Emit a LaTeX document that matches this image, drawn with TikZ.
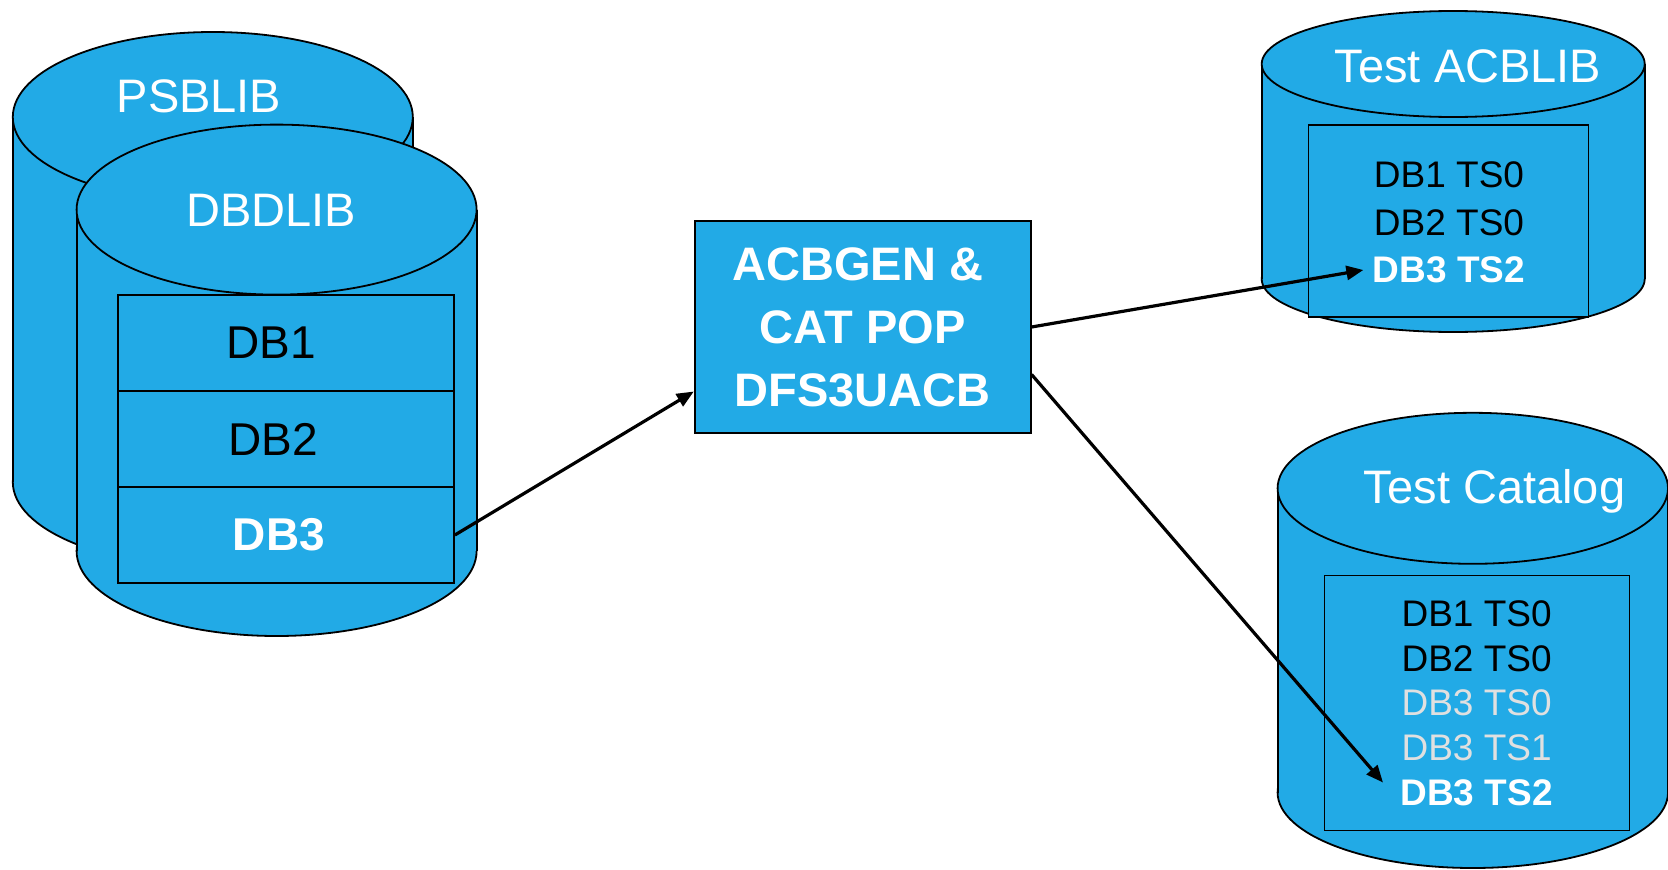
\documentclass[tikz,border=0pt]{standalone}
\usepackage{fontspec}
\setmainfont{Liberation Sans}
\usepackage{xcolor}
\usepackage{tikz}
\usetikzlibrary{arrows.meta, positioning, calc}
\definecolor{dbblue}{HTML}{22AAE6}
\definecolor{oldgray}{HTML}{E0E0E0}

% cylinder: centre x, top y, bottom y, x radius, y radius
\newcommand{\dbcyl}[5]{%
  \filldraw[cylpart] (#1,#3) ellipse [x radius=#4, y radius=#5];
  \fill[dbblue] (#1-#4,#2) rectangle (#1+#4,#3);
  \draw[cylline] (#1-#4,#2) -- (#1-#4,#3) (#1+#4,#2) -- (#1+#4,#3);
  \filldraw[cylpart] (#1,#2) ellipse [x radius=#4, y radius=#5];}

\begin{document}
\begin{tikzpicture}[x=1pt, y=-1pt,
    cylline/.style={draw=black, line width=1.8pt},
    cylpart/.style={cylline, fill=dbblue},
    title/.style={text=white, font=\fontsize{47}{56}\selectfont},
    rowbox/.style={draw=black, line width=1.8pt, fill=dbblue, minimum width=336pt, minimum height=96pt, inner sep=0pt},
    dbtext/.style={font=\fontsize{46}{55}\selectfont},
    listbox/.style={draw=black, line width=1.8pt, fill=dbblue, inner sep=0pt},
    tstext/.style={font=\fontsize{37}{44}\selectfont},
    procbox/.style={draw=black, line width=1.8pt, fill=dbblue, text=white, align=center,
      minimum width=336pt, minimum height=212pt, font=\bfseries\fontsize{47}{63}\selectfont},
    conn/.style={line width=3.2pt, -{Triangle[length=17pt, width=14pt]}}]
  \useasboundingbox (0,0) rectangle (1668,870);

  % PSBLIB behind DBDLIB
  \dbcyl{212.8}{117}{482}{200}{85}
  \node[title] (psb) at (199,96) {PSBLIB};
  \dbcyl{276.6}{209.6}{551}{200}{85}
  \node[title] (dbd) at (271,210) {DBDLIB};

  % DBD members
  \node[rowbox] (row1) at (286,343) {};
  \node[rowbox] (row2) at (286,439) {};
  \node[rowbox] (row3) at (286,535) {};
  \node[dbtext] (db1) at ([xshift=-15]row1.center) {DB1};
  \node[dbtext] (db2) at ([xshift=-13]row2.center) {DB2};
  \node[dbtext, text=white, font=\bfseries\fontsize{46}{55}\selectfont] (db3) at ([xshift=-7]row3.center) {DB3};

  % utility
  \node[procbox] (acb) at (862.7,327) {ACBGEN \&\hspace*{10pt}\\CAT POP\\DFS3UACB};

  % Test ACBLIB
  \dbcyl{1453.2}{64}{279}{191.5}{53}
  \node[title] (acblib) at (1468,66) {Test ACBLIB};
  \node[listbox, minimum width=280pt, minimum height=191.5pt] (alist) at (1448.4,221) {};
  \node[tstext] (a1) at (1449,174.5) {DB1 TS0};
  \node[tstext] (a2) at (1449,222.3) {DB2 TS0};
  \node[tstext, text=white, font=\bfseries\fontsize{37}{44}\selectfont] (a3) at (1449,270) {DB3 TS2};

  % Test Catalog
  \dbcyl{1472.8}{488.3}{792.5}{195.2}{75.5}
  \node[title] (cat) at (1494.6,491.5) {Test Catalog};
  \node[listbox, minimum width=305pt, minimum height=255pt] (clist) at (1477,703) {};
  \node[tstext] (c1) at (1476.6,613.8) {DB1 TS0};
  \node[tstext] (c2) at (1476.6,658.5) {DB2 TS0};
  \node[tstext, text=oldgray] (c3) at (1476.6,703.2) {DB3 TS0};
  \node[tstext, text=oldgray] (c4) at (1476.6,747.8) {DB3 TS1};
  \node[tstext, text=white, font=\bfseries\fontsize{37}{44}\selectfont] (c5) at (1476.6,792.5) {DB3 TS2};

  % connectors
  \draw[conn] (row3.east) -- ([yshift=-64.5]acb.west);
  \draw[conn] (acb.east) -- ([xshift=-6]a3.west);
  \draw[conn] ([yshift=-47.5]acb.east) -- ([xshift=-14,yshift=10]c5.west);
\end{tikzpicture}
\end{document}
